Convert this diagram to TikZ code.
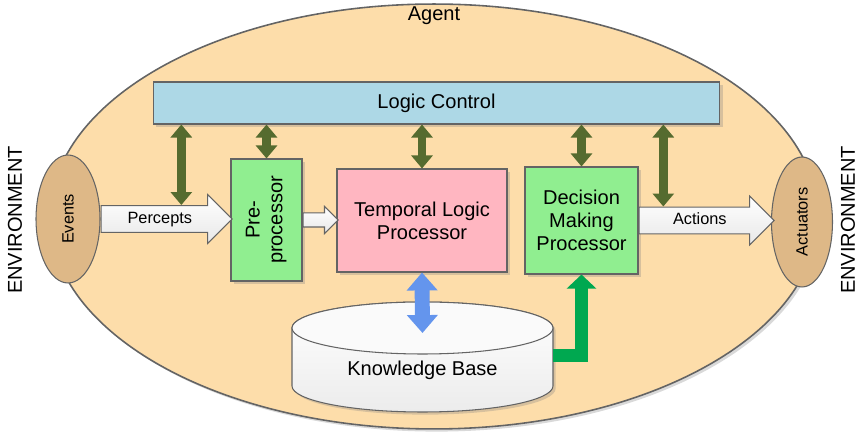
\documentclass[tikz,border=0pt]{standalone}
\usepackage{fontspec}
\setmainfont{Liberation Sans}
\usepackage{graphicx}
\usetikzlibrary{shapes.geometric,shapes.arrows,arrows.meta,shadows}
\definecolor{agentfill}{RGB}{253,221,170}
\definecolor{ctrlfill}{RGB}{173,216,230}
\definecolor{procfill}{RGB}{144,238,144}
\definecolor{tlpfill}{RGB}{255,182,193}
\definecolor{envfill}{RGB}{222,184,135}
\definecolor{linkfill}{RGB}{85,107,47}
\definecolor{kbblue}{RGB}{100,149,237}
\definecolor{kbgreen}{RGB}{0,168,80}
\definecolor{edge}{RGB}{100,100,100}
\tikzset{
  mainfont/.style={font=\fontsize{11.4}{13}\selectfont},
  smallfont/.style={font=\fontsize{9.3}{11}\selectfont},
  softshadow/.style={drop shadow={shadow xshift=1.5pt, shadow yshift=-1.5pt, opacity=.3}},
  box/.style={draw=edge, line width=.6pt, mainfont, align=center, inner sep=0pt, softshadow},
  sensor/.style={ellipse, draw=edge, line width=.6pt, fill=envfill, smallfont, inner sep=0pt, minimum width=1.28cm, minimum height=2.56cm},
  flow/.style={single arrow, draw=edge, line width=.6pt, top color=white, bottom color=gray!18, smallfont,
    single arrow head extend=6.2pt, inner xsep=0pt, inner ysep=2.85pt, text height=7pt, text depth=2pt},
  link/.style={draw=linkfill, line width=5.1pt, {Triangle[width=11.9pt,length=7.4pt]}-{Triangle[width=11.9pt,length=7.4pt]}},
  query/.style={draw=kbblue, line width=8.5pt, {Triangle[width=17pt,length=10.2pt]}-{Triangle[width=17pt,length=10.2pt]}},
  advice/.style={draw=kbgreen, line width=7.4pt, line join=miter, -{Triangle[width=16.4pt,length=8pt]}},
}
\begin{document}
\begin{tikzpicture}[x=0.02cm, y=-0.02cm]
  \useasboundingbox (0,0) rectangle (860,438);
  % agent and its surroundings
  \node[ellipse, draw=edge, line width=.9pt, fill=agentfill, minimum width=15.36cm, minimum height=8.5cm, softshadow] (agent) at (434,216.5) {};
  \node[mainfont] (agentname) at (434,16) {Agent};
  \node[mainfont, rotate=90] (envleft) at (15,220) {ENVIRONMENT};
  \node[mainfont, rotate=90] (envright) at (848,220) {ENVIRONMENT};
  \node[sensor] (events) at (68,219) {\rotatebox{90}{Events}};
  \node[sensor, minimum width=1.22cm, minimum height=2.6cm] (actuators) at (802,222) {\rotatebox{90}{Actuators}};
  % blocks
  \node[box, fill=ctrlfill, minimum width=11.34cm, minimum height=0.84cm] (lc) at (436.5,103) {Logic Control};
  \node[box, fill=procfill, minimum width=1.42cm, minimum height=2.44cm] (pre) at (266.5,220)
    {\rotatebox{90}{\begin{tabular}{@{}c@{}}Pre-\\processor\end{tabular}}};
  \node[box, fill=tlpfill, minimum width=3.4cm, minimum height=2.06cm] (tlp) at (422,220.5) {Temporal Logic\\Processor};
  \node[box, fill=procfill, minimum width=2.26cm, minimum height=2.14cm] (dmp) at (581.5,220.5) {Decision\\Making\\Processor};
  % flow arrows
  \node[flow, anchor=tail, minimum height=2.62cm] (percepts) at (events.east) {Percepts};
  \node[flow, anchor=tail, minimum height=0.7cm, inner ysep=3.7pt, text height=0pt, text depth=0pt,
    single arrow head extend=3.7pt] (feed) at (pre.east) {};
  \node[flow, anchor=tail, minimum height=2.7cm] (actions) at (dmp.east) {Actions};
  % knowledge base
  \draw[draw=edge, line width=.6pt, top color=white, bottom color=gray!15, softshadow]
    (292,328) -- (292,386) arc[start angle=180, end angle=0, x radius=130.5, y radius=26]
    -- (553,328) arc[start angle=0, end angle=-180, x radius=130.5, y radius=26] -- cycle;
  \draw[draw=edge, line width=.6pt, fill=gray!4] (422.5,328) ellipse[x radius=130.5, y radius=26];
  \node[mainfont] (kb) at (422.5,370) {Knowledge Base};
  \coordinate (kbtop) at (422.5,333);
  \coordinate (kbside) at (553,356);
  % links to logic control
  \path (percepts.north) ++(21.5,0) coordinate (tapin);
  \path (actions.north) ++(-36.5,0) coordinate (tapout);
  \draw[link] (lc.south -| tapin) -- (tapin);
  \draw[link] (lc.south -| pre.north) -- (pre.north);
  \draw[link] (lc.south -| tlp.north) -- (tlp.north);
  \draw[link] (lc.south -| dmp.north) -- (dmp.north);
  \draw[link] (lc.south -| tapout) -- (tapout);
  \draw[query] (tlp.south) -- (kbtop);
  \draw[advice] (kbside) -| (dmp.south);
\end{tikzpicture}
\end{document}
